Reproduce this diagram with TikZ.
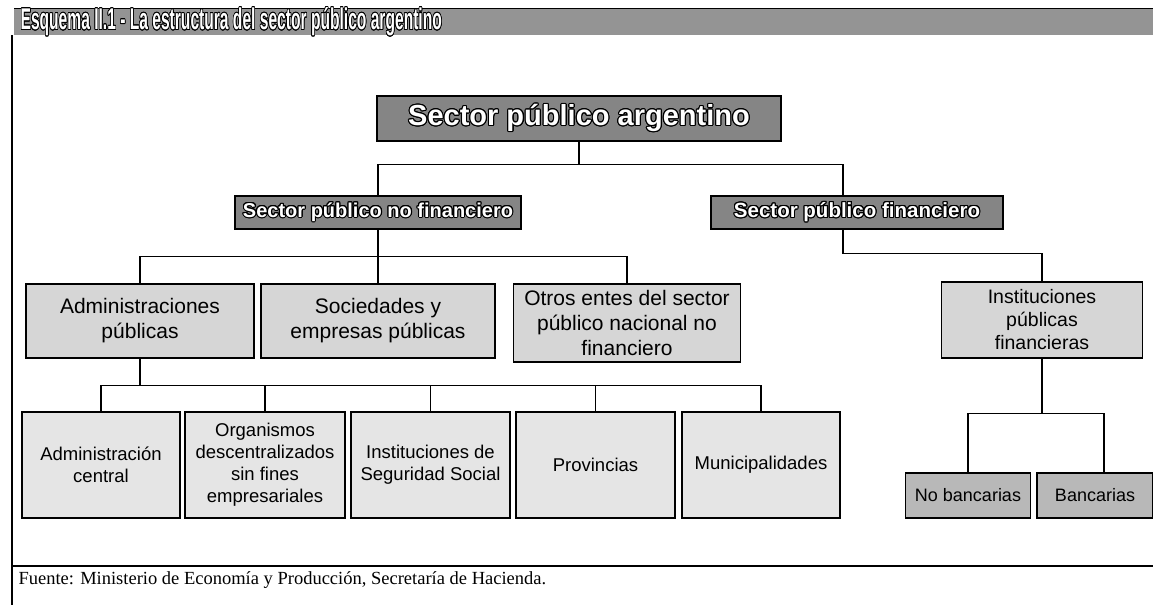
\documentclass[tikz,border=0pt]{standalone}
\usepackage{fontspec}
\setmainfont{Liberation Serif}
\setsansfont{Liberation Sans}
\usepackage{contour}
\contourlength{1.1pt}
\definecolor{bargray}{gray}{0.58}
\definecolor{topgray}{gray}{0.52}
\definecolor{midgray}{gray}{0.84}
\definecolor{lowgray}{gray}{0.90}
\definecolor{bankgray}{gray}{0.72}
\newcommand{\whiteout}[1]{\contour{black}{\textcolor{white}{#1}}}

\begin{document}
\begin{tikzpicture}[x=1pt,y=-1pt,line width=1.2pt,
  topbox/.style={draw,fill=topgray,inner sep=0pt,font=\sffamily\bfseries},
  midbox/.style={draw,fill=midgray,inner sep=0pt,align=center,
    font=\sffamily\fontsize{21}{25}\selectfont},
  lowbox/.style={draw,fill=lowgray,inner sep=0pt,align=center,
    minimum height=106,font=\sffamily\fontsize{18.5}{22}\selectfont},
  bankbox/.style={draw,fill=bankgray,inner sep=0pt,
    minimum height=45,font=\sffamily\fontsize{18}{22}\selectfont}]
\useasboundingbox (0,0) rectangle (1153,605);

\fill[bargray] (14,8) rectangle (1153,35);
\draw[line width=1pt] (14,8) -- (1153,8);
\node[anchor=west,inner sep=0pt] (title) at (20,22.5)
  {\sffamily\bfseries\fontsize{30}{32}\selectfont
   \scalebox{0.52}[1]{\whiteout{Esquema II.1 - La estructura del sector público argentino}}};
\draw (12,35) -- (12,605);
\draw (12,566) -- (1153,566);

\node[topbox,minimum width=404,minimum height=45] (root) at (579,118.5)
  {\fontsize{29}{34}\selectfont\whiteout{Sector público argentino}};

\node[topbox,minimum width=286,minimum height=33] (spnf) at (378,212.5)
  {\fontsize{20}{24}\selectfont\whiteout{Sector público no financiero}};
\node[topbox,minimum width=292,minimum height=33] (spf) at (857,212.5)
  {\fontsize{20.5}{24}\selectfont\whiteout{Sector público financiero}};

\node[midbox,minimum width=228,minimum height=74] (admpub) at (140,321)
  {Administraciones\\públicas};
\node[midbox,minimum width=234,minimum height=74] (soc) at (378,321)
  {Sociedades y\\empresas públicas};
\node[midbox,minimum width=227,minimum height=78] (otros) at (627,323)
  {Otros entes del sector\\público nacional no\\financiero};
\node[midbox,minimum width=201,minimum height=76,
  font=\sffamily\fontsize{19.5}{23}\selectfont] (instfin) at (1042,320)
  {Instituciones\\públicas\\financieras};

\node[lowbox,minimum width=158] (admc) at (101,465) {Administración\\central};
\node[lowbox,minimum width=160] (org) at (265,465)
  {Organismos\\descentralizados\\sin fines\\empresariales};
\node[lowbox,minimum width=159] (iss) at (430.5,465)
  {Instituciones de\\Seguridad Social};
\node[lowbox,minimum width=159] (prov) at (595.5,465) {Provincias};
\node[lowbox,minimum width=158] (mun) at (761,465) {Municipalidades};

\node[bankbox,minimum width=125] (nobanc) at (968,495.5) {No bancarias};
\node[bankbox,minimum width=116] (banc) at (1095,495.5) {Bancarias};

\draw (root.south) -- ++(0,23) -| (spnf.north);
\draw (root.south) ++(0,23) -| ([xshift=-14]spf.north);

\draw (spnf.south) -- (soc.north);
\draw (spnf.south) ++(0,27) -| (admpub.north);
\draw (spnf.south) ++(0,27) -| (otros.north);

\draw ([xshift=-14]spf.south) -- ++(0,24) -| (instfin.north);

\draw (admpub.south) -- ++(0,27) coordinate (lowbar);
\draw (admc.north) |- (lowbar) -| (mun.north);
\foreach \n in {org,iss,prov}
  \draw (\n.north) -- (\n.north |- lowbar);

\draw (instfin.south) -- ++(0,55) coordinate (bankbar);
\draw (nobanc.north) |- (bankbar) -| ([xshift=9]banc.north);

\node[anchor=west,inner sep=0pt] (source) at (18,580)
  {\fontsize{18.5}{22}\selectfont Fuente: Ministerio de Economía y Producción, Secretaría de Hacienda.};
\end{tikzpicture}
\end{document}
